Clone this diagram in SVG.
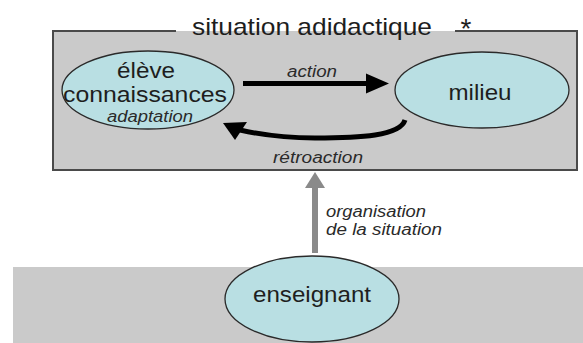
<svg xmlns="http://www.w3.org/2000/svg" width="583" height="343" viewBox="0 0 583 343">
<defs>
<style>
.node{fill:#b9dfe3;stroke:#2a2a2a;stroke-width:1.3}
.t{font-family:"Liberation Sans",Arial,sans-serif;fill:#1e1e1e;text-anchor:middle}
.big{font-size:22px}
.lab{font-family:"Liberation Sans",Arial,sans-serif;font-style:italic;font-size:16px;fill:#2a2a2a}
</style>
</defs>
<rect x="0" y="0" width="583" height="343" fill="#ffffff"/>
<g id="situation">
<rect x="53" y="31" width="524" height="139" fill="#cacaca"/>
<path d="M176,31 H53 V170 H577 V31 H455" fill="none" stroke="#4a4a4a" stroke-width="2"/>
<text class="t" x="312" y="35" font-size="24" textLength="240" lengthAdjust="spacingAndGlyphs">situation adidactique</text>
<text class="t" x="466" y="38" font-size="28">*</text>
</g>
<g id="enseignant-zone">
<rect x="13" y="267" width="570" height="76" fill="#cacaca"/>
</g>
<g id="eleve">
<ellipse class="node" cx="148" cy="90" rx="86" ry="39"/>
<text class="t big" x="146" y="78" textLength="58" lengthAdjust="spacingAndGlyphs">élève</text>
<text class="t big" x="145" y="101.5" textLength="164" lengthAdjust="spacingAndGlyphs">connaissances</text>
<text class="lab" x="150" y="121.5" text-anchor="middle" textLength="86" lengthAdjust="spacingAndGlyphs">adaptation</text>
</g>
<g id="milieu">
<ellipse class="node" cx="482" cy="90" rx="87" ry="38"/>
<text class="t big" x="480" y="100" textLength="63" lengthAdjust="spacingAndGlyphs">milieu</text>
</g>
<g id="enseignant">
<ellipse class="node" cx="312" cy="299" rx="87" ry="43"/>
<text class="t big" x="312" y="301.5" textLength="118" lengthAdjust="spacingAndGlyphs">enseignant</text>
</g>
<g id="connectors">
<line x1="243" y1="83.5" x2="368" y2="83.5" stroke="#000" stroke-width="5"/>
<polygon points="366,73.5 389,83.5 366,93.5" fill="#000"/>
<text class="lab" x="312" y="77" text-anchor="middle" textLength="50" lengthAdjust="spacingAndGlyphs">action</text>
<path d="M405,120 C400,136 360,138 315,138 C285,138 262,135 240,130" fill="none" stroke="#000" stroke-width="5"/>
<polygon points="223,123 247,122 235,140" fill="#000"/>
<text class="lab" x="318" y="163" text-anchor="middle" textLength="90" lengthAdjust="spacingAndGlyphs">rétroaction</text>
<rect x="312" y="186" width="6" height="67" fill="#8a8a8a"/>
<polygon points="315,172 305,188 325,188" fill="#8a8a8a"/>
<text class="lab" x="326" y="217" textLength="100" lengthAdjust="spacingAndGlyphs">organisation</text>
<text class="lab" x="326" y="235" textLength="116" lengthAdjust="spacingAndGlyphs">de la situation</text>
</g>
</svg>
